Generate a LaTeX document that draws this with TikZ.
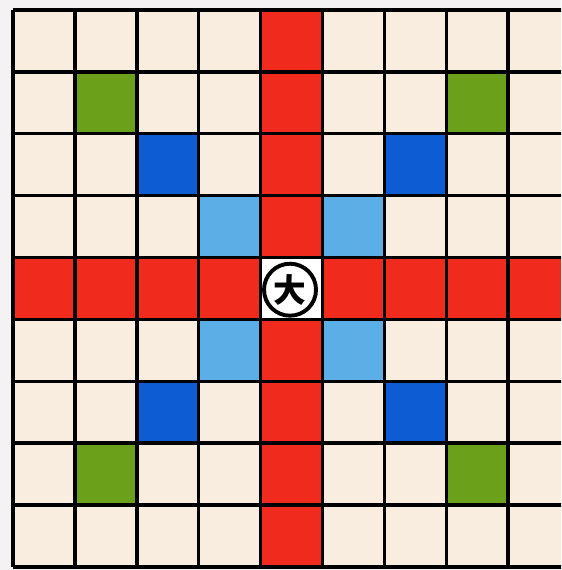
\documentclass[tikz,border=0pt]{standalone}
\usepackage{fontspec}
\newfontfamily\cjk{Noto Sans CJK SC}
\definecolor{paperGray}{RGB}{244,242,243}
\definecolor{boardCream}{RGB}{248,237,222}
\definecolor{crossRed}{RGB}{240,42,28}
\definecolor{markGreen}{RGB}{106,160,26}
\definecolor{markBlue}{RGB}{14,92,212}
\definecolor{markSky}{RGB}{92,174,230}
\usetikzlibrary{positioning}

\begin{document}
\begin{tikzpicture}[
    gridline/.style={line width=1.6pt, black},
    centrepiece/.style={circle, draw=black, line width=1.8pt, fill=white,
        minimum size=0.84cm, inner sep=0pt, font=\cjk\bfseries\fontsize{15}{15}\selectfont}
  ]
    \useasboundingbox (-0.21,0.16) rectangle (8.853,-9.048);
    \clip (-0.21,0.16) rectangle (8.853,-9.048);
    \fill[paperGray] (-0.21,0.16) rectangle (8.853,-9.048);

    % Board
    \fill[boardCream] (0,0) rectangle (9,-9);

    % Red cross through the middle
    \fill[crossRed] (4,0) rectangle (5,-9);
    \fill[crossRed] (0,-4) rectangle (9,-5);
    \fill[white] (4,-4) rectangle (5,-5);

    % Coloured squares on the diagonals
    \foreach \c/\r/\col in {1/1/markGreen, 7/1/markGreen, 1/7/markGreen, 7/7/markGreen,
                            2/2/markBlue, 6/2/markBlue, 2/6/markBlue, 6/6/markBlue,
                            3/3/markSky, 5/3/markSky, 3/5/markSky, 5/5/markSky} {
        \fill[\col] (\c,-\r) rectangle ({\c+1},{-\r-1});
    }

    % Grid lines
    \draw[gridline] (0,0) grid (9,-9);

    % Centre piece
    \node[centrepiece] (dai) at (4.475,-4.52) {大};
\end{tikzpicture}
\end{document}
